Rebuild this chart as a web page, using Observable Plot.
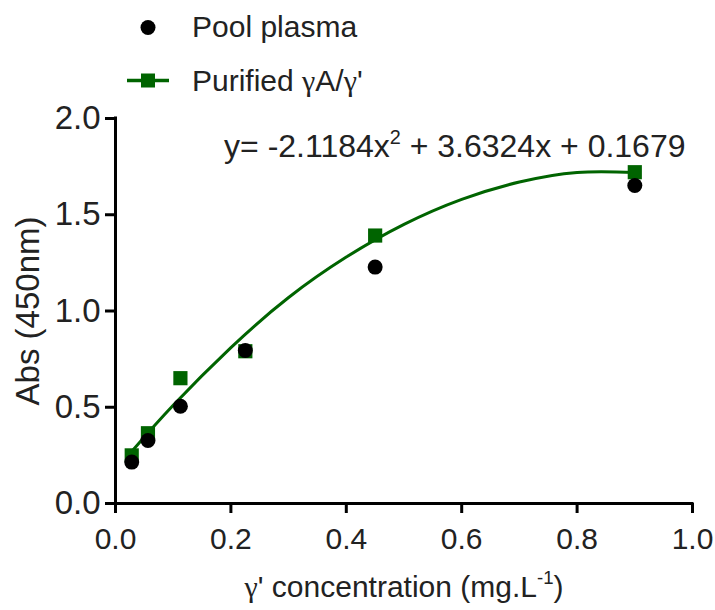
<!DOCTYPE html>
<html>
<head>
<meta charset="utf-8">
<script src="https://cdn.jsdelivr.net/npm/d3@7"></script>
<script src="https://cdn.jsdelivr.net/npm/@observablehq/plot@0.6"></script>
<style>
  body { margin: 0; background: white; font-family: "Liberation Sans", Arial, sans-serif; }
  #legend { display: block; }
</style>
</head>
<body>
<svg id="legend" width="715" height="105"></svg>
<div id="chart"></div>
<script>
// Data
const concentration = [0.028125, 0.05625, 0.1125, 0.225, 0.45, 0.9];
const poolPlasma   = [0.215, 0.327, 0.505, 0.795, 1.228, 1.652];
const purified     = [0.25, 0.365, 0.651, 0.791, 1.392, 1.721];
// fitted curve
const fitX = [0.028, 0.1, 0.2, 0.3, 0.4, 0.5, 0.6, 0.7, 0.8, 0.9];
const fitY = [0.27, 0.51, 0.81, 1.07, 1.28, 1.45, 1.58, 1.67, 1.72, 1.72];
const xTicks = [0, 0.2, 0.4, 0.6, 0.8, 1.0];
const yTicks = [0, 0.5, 1.0, 1.5, 2.0];
const seriesNames = ["Pool plasma", "Purified \u03B3A/\u03B3'"];
const equationParts = [{t: "y= -2.1184x"}, {t: "2", sup: true}, {t: " + 3.6324x + 0.1679"}];
const xTitleParts = [{t: "\u03B3", serif: true}, {t: "' concentration (mg.L"}, {t: "-1", sup: true}, {t: ")"}];
const yTitle = "Abs (450nm)";

const green = "#006400";
const textColor = "#222";
const font = "Liberation Sans, Arial, sans-serif";
const serif = "Liberation Serif, Times New Roman, serif";

const pool = concentration.map((x, i) => ({x, y: poolPlasma[i]}));
const pur = concentration.map((x, i) => ({x, y: purified[i]}));
const fit = fitX.map((x, i) => ({x, y: fitY[i]}));

function rich(sel, parts, size) {
  sel.text(null);
  let shifted = false;
  parts.forEach(p => {
    const ts = sel.append("tspan").text(p.t);
    if (p.serif) ts.attr("font-family", serif);
    if (p.sup) {
      ts.attr("font-size", size * 0.62).attr("dy", -size * 0.42);
      shifted = true;
    } else if (shifted) {
      ts.attr("dy", size * 0.42);
      shifted = false;
    }
  });
}

// Legend
const leg = d3.select("#legend").attr("font-family", font);
leg.append("circle").attr("cx", 148).attr("cy", 27.5).attr("r", 7.5).attr("fill", "black");
leg.append("text").attr("x", 192).attr("y", 37)
  .attr("font-size", 30).attr("fill", textColor).text(seriesNames[0]);
leg.append("line").attr("x1", 127).attr("x2", 169).attr("y1", 80.5).attr("y2", 80.5)
  .attr("stroke", green).attr("stroke-width", 3.5);
leg.append("rect").attr("x", 141).attr("y", 73.5).attr("width", 14).attr("height", 14).attr("fill", green);
const t2 = leg.append("text").attr("x", 192).attr("y", 91)
  .attr("font-size", 30).attr("fill", textColor);
rich(t2, [{t: "Purified "}, {t: "\u03B3", serif: true}, {t: "A/"}, {t: "\u03B3", serif: true}, {t: "'"}], 30);

const fmt = d3.format(".1f");
const xTitle = xTitleParts.map(p => p.t).join("");

const plot = Plot.plot({
  width: 715,
  height: 505,
  marginTop: 13,
  marginLeft: 115,
  marginRight: 23,
  marginBottom: 107,
  style: {fontFamily: font, fontSize: "30px", color: textColor, background: "white", overflow: "visible"},
  x: {domain: [0, 1.0]},
  y: {domain: [0, 2.0]},
  marks: [
    Plot.axisX({ticks: xTicks, tickFormat: fmt, tickSize: 10, tickPadding: 14, strokeWidth: 3, stroke: "black",
      label: xTitle, labelAnchor: "center", labelArrow: "none", labelOffset: 93, fontSize: 30}),
    Plot.axisY({ticks: yTicks, tickFormat: fmt, tickSize: 10, tickPadding: 5, strokeWidth: 3, stroke: "black",
      label: yTitle, labelAnchor: "center", labelArrow: "none", labelOffset: 100, fontSize: 33}),
    Plot.ruleX([0], {stroke: "black", strokeWidth: 3, strokeLinecap: "square"}),
    Plot.ruleY([0], {stroke: "black", strokeWidth: 3, strokeLinecap: "square"}),
    Plot.line(fit, {x: "x", y: "y", stroke: green, strokeWidth: 3, curve: "natural"}),
    Plot.dot(pur, {x: "x", y: "y", symbol: "square", r: 8, fill: green}),
    Plot.dot(pool, {x: "x", y: "y", symbol: "circle", r: 7.5, fill: "black"}),
    Plot.text([equationParts.map(p => p.t).join("")], {frameAnchor: "top-right", dx: -7, dy: 16, fontSize: 32,
      fill: textColor, textAnchor: "end", className: "equation"})
  ]
});
document.getElementById("chart").appendChild(plot);

// rich text (superscripts, Greek glyph) applied to rendered text elements
d3.select(plot).selectAll(".equation text").each(function() { rich(d3.select(this), equationParts, 32); });
d3.select(plot).selectAll("text").filter(function() { return this.textContent === xTitle; })
  .each(function() { rich(d3.select(this), xTitleParts, 30); });
</script>
</body>
</html>
